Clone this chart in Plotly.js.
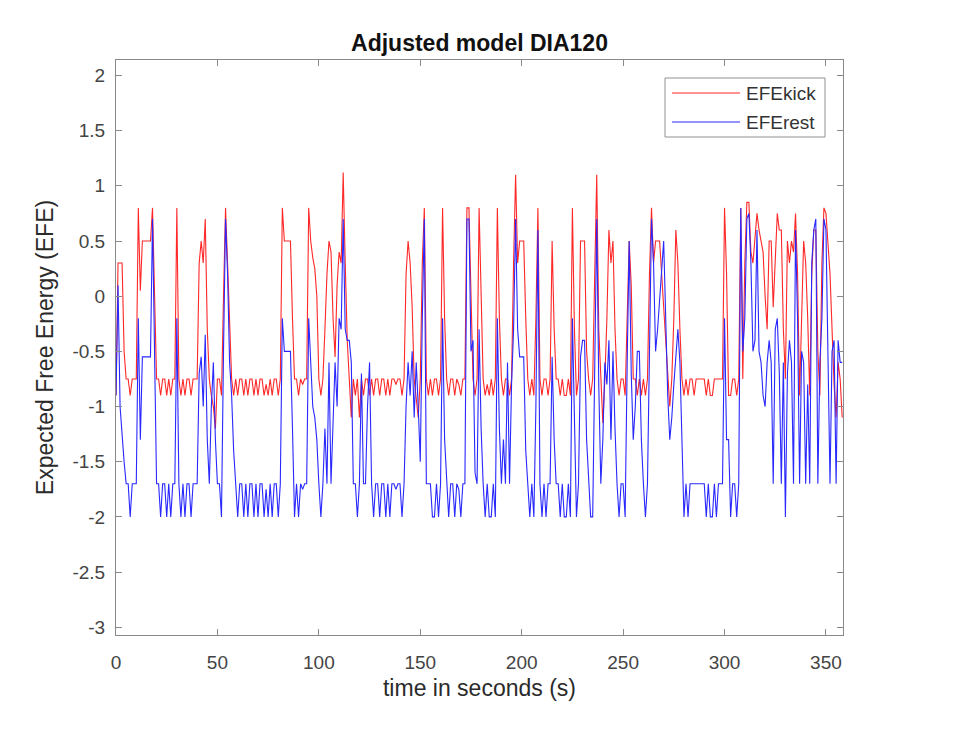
<!DOCTYPE html>
<html>
<head>
<meta charset="utf-8">
<script src="https://cdn.plot.ly/plotly-3.0.1.min.js"></script>
<style>html,body{margin:0;padding:0;background:#fff;}#chart{width:957px;height:730px;}</style>
</head>
<body>
<div id="chart"></div>
<script>
// ---- data (one sample per second) ----
const timeStart = 0;      // s
const timeStep = 1;       // s

const efeKick = [
  -0.9, 0.3, 0.3, 0.3, -0.5, -0.75, -0.75, -0.9, -0.75, -0.75,
  -0.75, 0.8, 0.05, 0.5, 0.5, 0.5, 0.5, 0.5, 0.8, 0.1,
  -0.75, -0.75, -0.9, -0.75, -0.75, -0.9, -0.75, -0.9, -0.75, -0.75,
  0.8, -0.75, -0.9, -0.75, -0.9, -0.75, -0.75, -0.9, -0.75, -0.75,
  -0.75, 0.3, 0.5, 0.3, 0.7, -0.3, -0.75, -0.9, -1.0, -1.2,
  -0.75, -0.75, -0.9, 0.0, 0.8, 0.3, -0.3, -0.75, -0.9, -0.75,
  -0.9, -0.75, -0.75, -0.9, -0.75, -0.9, -0.75, -0.75, -0.9, -0.75,
  -0.9, -0.75, -0.75, -0.9, -0.8, -0.9, -0.75, -0.9, -0.75, -0.75,
  -0.9, -0.75, 0.8, 0.5, 0.5, 0.5, 0.5, -0.2, -0.75, -0.75,
  -0.9, -0.75, -0.8, -0.75, -0.75, 0.8, 0.5, 0.35, 0.25, 0.0,
  -0.75, -0.9, -0.75, -0.3, 0.2, 0.5, 0.4, -0.2, -0.55, 0.1,
  0.4, 0.3, 1.12, 0.3, -0.4, -0.75, -1.1, -0.75, -0.9, -0.75,
  -1.1, -0.75, -0.9, -0.75, -0.75, -0.9, -0.75, -0.9, -0.75, -0.75,
  -0.9, -0.75, -0.75, -0.9, -0.75, -0.9, -0.75, -0.75, -0.8, -0.75,
  -0.75, -0.9, -0.75, 0.2, 0.5, 0.3, -0.1, -0.75, -0.9, -1.1,
  -0.75, 0.3, 0.8, -0.75, -0.9, -0.75, -0.9, -0.75, -0.75, -0.9,
  -0.75, 0.8, -0.2, -0.75, -0.9, -0.75, -0.75, -0.9, -0.75, -0.8,
  -0.9, -0.75, -0.75, 0.8, 0.8, -0.1, -0.75, -0.9, -0.75, 0.8,
  -0.1, -0.75, -0.9, -0.8, -0.9, -0.75, -0.9, -0.75, 0.8, -0.2,
  -0.75, -0.9, -0.75, -0.75, -0.9, -0.75, 0.3, 1.1, 0.3, 0.5,
  0.5, 0.5, -0.2, -0.75, -0.9, -0.75, -0.9, -0.2, 0.8, -0.75,
  -0.9, -0.75, -0.75, -0.9, -0.75, 0.5, -0.3, -0.75, -0.75, -0.9,
  -0.75, -0.9, -0.9, -0.75, -0.9, 0.8, -0.3, -0.9, -0.75, 0.5,
  0.5, 0.5, -0.5, -0.75, -0.9, -0.75, 0.2, 1.1, -0.3, -0.75,
  -1.15, -0.75, -0.2, 0.6, 0.3, 0.5, -0.3, -0.75, -0.9, -0.75,
  -0.75, -0.9, -0.3, 0.5, 0.1, -0.75, -0.75, -0.9, -0.75, -0.9,
  -0.75, -0.9, -0.75, 0.2, 0.8, 0.3, 0.5, 0.5, 0.5, 0.2,
  -0.1, -0.5, -0.75, -1.0, -0.75, -0.2, 0.6, 0.3, -0.3, -0.75,
  -0.9, -0.75, -0.9, -0.75, -0.75, -0.9, -0.75, -0.75, -0.75, -0.75,
  -0.75, -0.9, -0.75, -0.9, -0.9, -0.75, -0.75, -0.75, -0.75, -0.75,
  0.8, 0.2, -0.9, -0.9, -0.75, -0.75, -0.9, -0.75, 0.8, -0.75,
  0.3, 0.85, 0.85, 0.4, 0.3, 0.5, 0.75, 0.6, 0.5, 0.4,
  0.0, -0.3, 0.5, 0.5, -0.1, 0.3, 0.75, 0.6, 0.6, -0.3,
  -0.75, 0.5, 0.3, 0.5, 0.4, 0.75, 0.2, -0.9, -0.3, 0.5,
  0.3, -0.2, -0.9, 0.2, 0.6, 0.6, -0.5, -0.9, 0.3, 0.8,
  0.75, 0.5, 0.2, -0.3, -0.8, -1.1, -0.6, -0.75, -1.1
];

const efeRest = [
  -0.9, 0.1, -1.0, -1.3, -1.5, -1.7, -1.7, -2.0, -1.7, -1.7,
  -1.7, -0.2, -1.3, -0.55, -0.55, -0.55, -0.55, -0.55, 0.7, -0.5,
  -1.7, -1.7, -2.0, -1.7, -1.7, -2.0, -1.7, -2.0, -1.7, -1.7,
  -0.2, -1.7, -2.0, -1.7, -2.0, -1.7, -1.7, -2.0, -1.7, -1.7,
  -1.7, -0.7, -0.55, -1.0, -0.35, -1.3, -1.7, -1.0, -0.6, -1.3,
  -1.7, -1.7, -2.0, -0.5, 0.7, 0.2, -0.6, -0.9, -1.4, -1.7,
  -2.0, -1.7, -1.7, -2.0, -1.7, -2.0, -1.7, -1.7, -2.0, -1.7,
  -2.0, -1.7, -1.7, -2.0, -1.75, -2.0, -1.7, -2.0, -1.7, -1.7,
  -2.0, -1.7, -0.2, -0.5, -0.5, -0.5, -0.5, -1.2, -2.0, -1.7,
  -2.0, -1.7, -1.75, -1.7, -1.7, -0.2, -0.6, -1.0, -1.1, -1.3,
  -1.7, -2.0, -1.7, -1.2, -1.7, -0.6, -1.7, -1.2, -0.6, -1.0,
  -0.2, -0.3, 0.7, -0.3, -0.4, -0.4, -0.6, -1.7, -1.7, -2.0,
  -1.7, -0.7, -1.7, -1.7, -1.0, -0.6, -1.7, -2.0, -1.7, -1.7,
  -2.0, -1.7, -1.7, -2.0, -1.7, -2.0, -1.7, -1.7, -1.75, -1.7,
  -1.7, -2.0, -1.7, -1.0, -0.6, -0.9, -0.5, -1.1, -0.6, -1.0,
  -1.5, -0.2, 0.7, -1.7, -1.7, -1.7, -2.0, -2.0, -1.7, -2.0,
  -1.7, -0.2, -1.3, -1.7, -2.0, -1.7, -1.7, -2.0, -1.7, -1.75,
  -2.0, -1.7, -1.7, 0.7, 0.7, -0.5, -0.4, -1.6, -1.7, -0.3,
  -1.2, -1.7, -2.0, -1.7, -2.0, -2.0, -1.7, -2.0, -0.2, -1.2,
  -1.7, -1.3, -1.7, -0.6, -1.7, -0.8, -0.3, 0.7, -0.3, -0.55,
  -0.55, -0.55, -1.4, -1.7, -2.0, -1.7, -2.0, -1.0, 0.6, -1.7,
  -2.0, -1.7, -2.0, -1.7, -1.7, -0.55, -1.3, -1.7, -1.7, -2.0,
  -1.7, -2.0, -2.0, -1.7, -2.0, -0.2, -1.3, -2.0, -1.7, -0.55,
  -0.4, -0.4, -1.3, -1.7, -2.0, -2.0, -0.6, 0.7, -0.8, -1.7,
  -1.3, -0.6, -0.8, -0.4, -1.3, -0.5, -1.2, -1.7, -2.0, -1.7,
  -1.7, -2.0, -0.6, 0.5, -0.7, -1.3, -1.0, -0.5, -0.5, -1.3,
  -1.7, -2.0, -1.7, -0.5, 0.7, 0.3, -0.5, -0.3, 0.0, 0.3,
  0.5, -0.2, -0.9, -1.3, -1.1, -0.8, -0.5, -0.3, -0.6, -1.4,
  -2.0, -1.7, -2.0, -1.7, -1.7, -1.7, -1.7, -1.7, -1.7, -1.7,
  -1.7, -2.0, -1.7, -2.0, -2.0, -1.7, -2.0, -1.7, -1.7, -1.7,
  -0.2, -1.3, -1.3, -2.0, -1.7, -1.7, -2.0, -1.7, 0.8, -0.5,
  -0.2, 0.7, 0.75, 0.3, -0.5, -0.4, 0.6, -0.5, -0.6, -0.9,
  -1.0, -0.6, -0.4, -0.6, -1.7, -0.3, -0.2, -0.7, -1.7, -0.6,
  -2.0, -0.7, -0.4, -0.6, -1.7, 0.6, -0.2, -1.7, -0.5, -0.6,
  -1.7, -0.8, -1.7, 0.3, 0.6, 0.7, -1.7, -0.6, -0.2, 0.7,
  0.6, -0.4, -1.7, -0.5, -0.4, -1.7, -0.4, -0.6, -0.6
];

const xTickVals = [0, 50, 100, 150, 200, 250, 300, 350];
const xTickText = ["0", "50", "100", "150", "200", "250", "300", "350"];
const yTickVals = [-3, -2.5, -2, -1.5, -1, -0.5, 0, 0.5, 1, 1.5, 2];
const yTickText = ["-3", "-2.5", "-2", "-1.5", "-1", "-0.5", "0", "0.5", "1", "1.5", "2"];
const seriesNames = ["EFEkick", "EFErest"];

// ---- styling / layout ----
const W = 957, H = 730;
const M = {l: 116, r: 114, t: 60, b: 95};
const plotW = W - M.l - M.r, plotH = H - M.t - M.b;
const px = x => (x - M.l) / plotW;          // page x -> paper x
const py = y => (M.t + plotH - y) / plotH;  // page y -> paper y

const redCol = 'rgb(255,40,40)';
const blueCol = 'rgb(40,40,255)';
const font = '"Liberation Sans", Arial, Helvetica, sans-serif';
const axisCol = '#8a8a8a';

const traces = [
  {type: 'scatter', mode: 'lines', name: seriesNames[0], x0: timeStart, dx: timeStep, y: efeKick,
   line: {color: redCol, width: 1.1}, showlegend: false},
  {type: 'scatter', mode: 'lines', name: seriesNames[1], x0: timeStart, dx: timeStep, y: efeRest,
   line: {color: blueCol, width: 1.1}, showlegend: false}
];

const axisCommon = {
  showline: true, linecolor: axisCol, linewidth: 1, mirror: 'ticks',
  ticks: 'inside', ticklen: 6, tickcolor: axisCol, tickwidth: 1,
  showgrid: false, zeroline: false, fixedrange: true,
  tickfont: {family: font, size: 19, color: '#444'}
};

const legL = 665, legR = 825, legT = 78, legB = 137;
const legRowY = [93, 122];

const layout = {
  width: W, height: H, margin: M,
  paper_bgcolor: '#fff', plot_bgcolor: '#fff',
  showlegend: false,
  title: {text: '<b>Adjusted model DIA120</b>', font: {family: font, size: 23, color: '#111'},
          x: 0.5, xref: 'paper', xanchor: 'center', y: 1 - 43 / H, yref: 'container', yanchor: 'middle'},
  xaxis: Object.assign({}, axisCommon, {
    range: [0, 358.4], tickvals: xTickVals, ticktext: xTickText, ticklabelstandoff: 10,
    title: {text: 'time in seconds (s)', font: {family: font, size: 23, color: '#2a2a2a'}, standoff: 8}
  }),
  yaxis: Object.assign({}, axisCommon, {
    range: [-3.07, 2.14], tickvals: yTickVals, ticktext: yTickText, ticklabelstandoff: 6,
    title: {text: 'Expected Free Energy (EFE)', font: {family: font, size: 23, color: '#2a2a2a'}, standoff: 12}
  }),
  shapes: [
    {type: 'rect', xref: 'paper', yref: 'paper', x0: px(legL), x1: px(legR), y0: py(legB), y1: py(legT),
     line: {color: '#909090', width: 1}, fillcolor: '#fff', layer: 'above'},
    {type: 'line', xref: 'paper', yref: 'paper', x0: px(672), x1: px(740), y0: py(legRowY[0]), y1: py(legRowY[0]),
     line: {color: redCol, width: 1.1}, layer: 'above'},
    {type: 'line', xref: 'paper', yref: 'paper', x0: px(672), x1: px(740), y0: py(legRowY[1]), y1: py(legRowY[1]),
     line: {color: blueCol, width: 1.1}, layer: 'above'}
  ],
  annotations: seriesNames.map((n, i) => ({
    text: n, xref: 'paper', yref: 'paper', x: px(744), y: py(legRowY[i]), xanchor: 'left', yanchor: 'middle',
    showarrow: false, font: {family: font, size: 19, color: '#333'}
  }))
};

Plotly.newPlot('chart', traces, layout, {displayModeBar: false, staticPlot: true});
</script>
</body>
</html>
